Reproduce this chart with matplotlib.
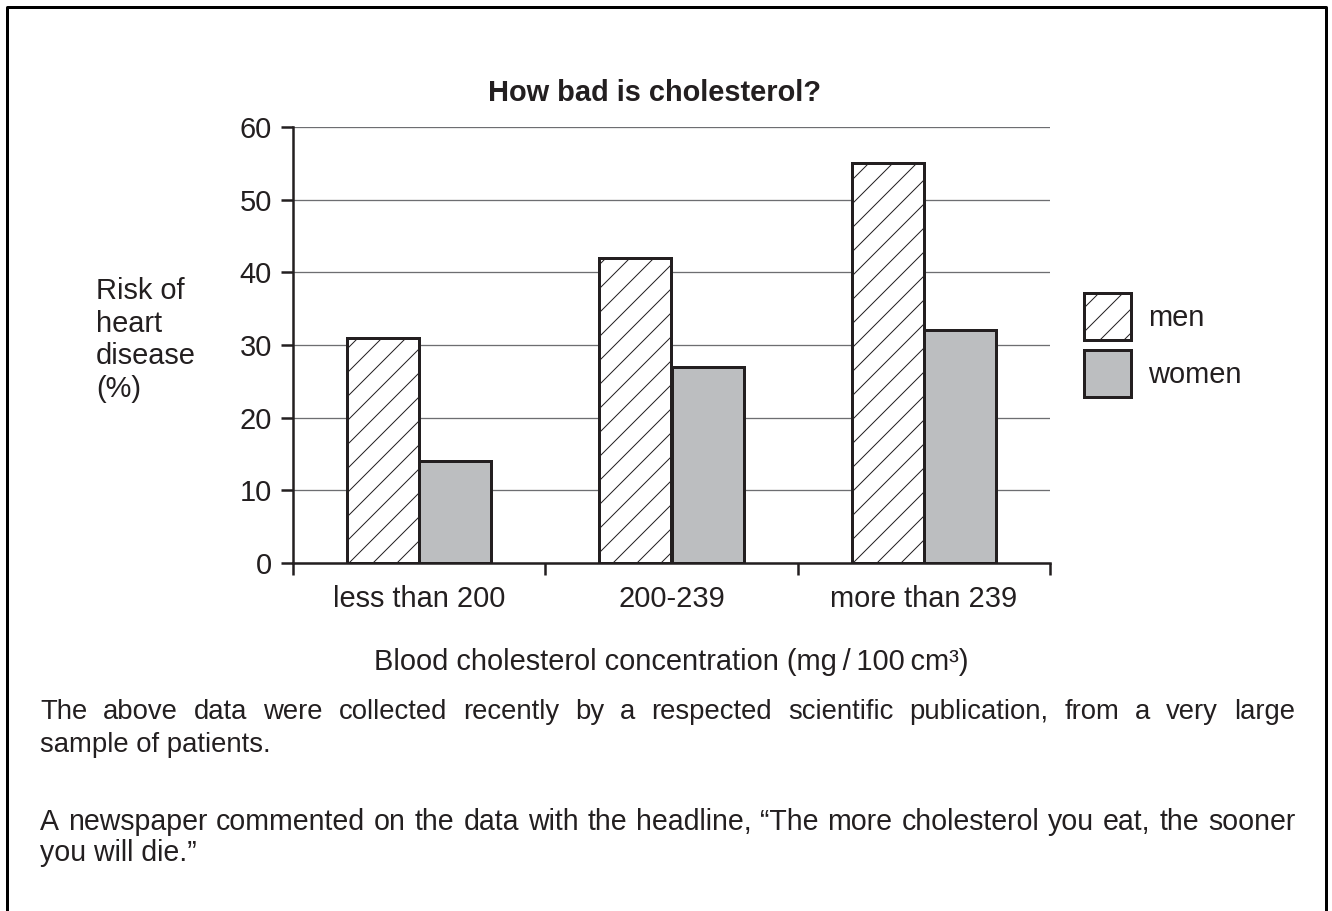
import matplotlib
matplotlib.use("Agg")
import matplotlib.pyplot as plt
import numpy as np

# chart values
categories = ["less than 200", "200-239", "more than 239"]
men = [31, 42, 55]
women = [14, 27, 32]
yticks = [0, 10, 20, 30, 40, 50, 60]

title = "How bad is cholesterol?"
ylabel = "Risk of\nheart\ndisease\n(%)"
xlabel = "Blood cholesterol concentration (mg\u2009/\u2009100\u2009cm\u00b3)"
para1 = ["The above data were collected recently by a respected scientific "
         "publication, from a very large",
         "sample of patients."]
para2 = ["A newspaper commented on the data with the headline, \u201cThe more "
         "cholesterol you eat, the sooner",
         "you will die.\u201d"]

INK = "#231f20"
W, H = 1332, 911
FS = 29       # chart text, px (= pt at dpi 72)
BODY1 = 27.5  # first paragraph
BODY2 = 28.5  # second paragraph

plt.rcParams["font.family"] = ["Liberation Sans", "DejaVu Sans"]
plt.rcParams["hatch.linewidth"] = 1.0

# dpi 72 so one point is one pixel (and the hatch cell is 72 px)
fig = plt.figure(figsize=(W / 72, H / 72), dpi=72)

# full-figure overlay in pixel units for the frame and the free text
lay = fig.add_axes([0, 0, 1, 1], zorder=0)
lay.set_xlim(0, W)
lay.set_ylim(H, 0)
lay.axis("off")

ax = fig.add_axes([293 / W, (H - 563) / H, (1050 - 293) / W, (563 - 127) / H],
                  zorder=1)

x = np.arange(len(categories))
w = 0.286
ax.bar(x - w / 2, men, w, facecolor="white", edgecolor=INK, hatch="/",
       linewidth=3, label="men", zorder=3)
ax.bar(x + w / 2, women, w, facecolor="#bcbec0", edgecolor=INK,
       linewidth=3, label="women", zorder=3)

ax.set_xlim(-0.5, len(categories) - 0.5)
ax.set_ylim(yticks[0], yticks[-1])
ax.set_yticks(yticks)
ax.yaxis.grid(True, color="#6d6e71", lw=1.3)
ax.set_axisbelow(True)
for side in ("top", "right"):
    ax.spines[side].set_visible(False)
for side in ("left", "bottom"):
    ax.spines[side].set_linewidth(2.5)
    ax.spines[side].set_color(INK)

ax.set_xticks(x)
ax.set_xticklabels(categories)
ax.set_xticks(np.arange(len(categories) + 1) - 0.5, minor=True)
ax.tick_params(axis="x", which="major", length=0, pad=22, labelsize=FS,
               labelcolor=INK)
ax.tick_params(axis="x", which="minor", length=12, width=2.5, color=INK)
ax.tick_params(axis="y", length=12, width=2.5, color=INK, pad=9,
               labelsize=FS, labelcolor=INK)

ax.legend(loc="upper left", bbox_to_anchor=(1084 / W, 1 - 293 / H),
          bbox_transform=fig.transFigure, frameon=False, fontsize=FS,
          handlelength=1.62, handleheight=2.12, labelspacing=0.345,
          handletextpad=0.58, borderpad=0, borderaxespad=0, labelcolor=INK)

lay.text(655, 93, title, fontsize=FS, fontweight="bold", color=INK,
         ha="center", va="center")
lay.text(96, 340, ylabel, fontsize=FS, color=INK, ha="left", va="center",
         linespacing=1.2)
lay.text(671, 662, xlabel, fontsize=FS, color=INK, ha="center", va="center")

# outer frame (open at the bottom)
lay.plot([7, 7, 1326, 1326], [H, 7, 7, H], color="black", lw=3,
         clip_on=False)

renderer = fig.canvas.get_renderer()


def justified(line, y, size, x0=40, x1=1295):
    words = line.split(" ")
    arts = [lay.text(0, y, wd, fontsize=size, color=INK, va="baseline")
            for wd in words]
    widths = [a.get_window_extent(renderer).width for a in arts]
    gap = (x1 - x0 - sum(widths)) / (len(words) - 1)
    pos = x0
    for a, wd in zip(arts, widths):
        a.set_x(pos)
        pos += wd + gap


justified(para1[0], 719, BODY1)
lay.text(40, 752, para1[1], fontsize=BODY1, color=INK, va="baseline")
justified(para2[0], 830, BODY2)
lay.text(40, 861, para2[1], fontsize=BODY2, color=INK, va="baseline")

fig.savefig("out.png", dpi=72)
